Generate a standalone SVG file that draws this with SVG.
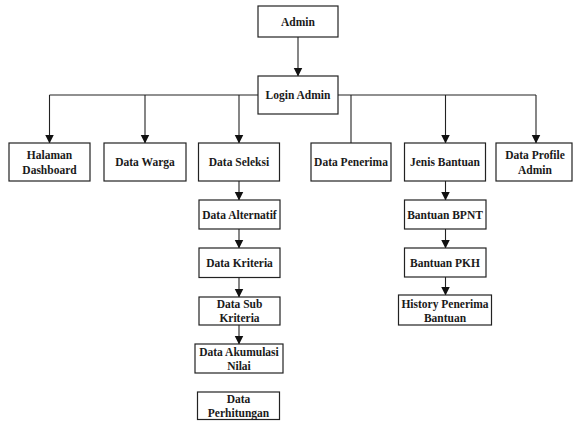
<svg xmlns="http://www.w3.org/2000/svg" width="573" height="421" viewBox="0 0 573 421">
<style>
.b{fill:#fff;stroke:#222;stroke-width:1.2}
.t{font-family:'Liberation Serif',Tinos,'DejaVu Serif',serif;font-weight:700;font-size:11.5px;fill:#1a1a1a;text-anchor:middle}
.c{fill:none;stroke:#222;stroke-width:1.1}
.a{marker-end:url(#ah)}
</style>
<defs>
<marker id="ah" markerUnits="userSpaceOnUse" markerWidth="9" markerHeight="10" refX="8.5" refY="4.5" orient="auto">
<path d="M0,0 L9,4.5 L0,9 Z" fill="#111"/>
</marker>
</defs>
<rect width="573" height="421" fill="#fff"/>
<g id="connectors">
<path class="c" d="M49.5,95 H536"/>
<path class="c a" d="M298,37 V76"/>
<path class="c a" d="M49.5,95 V143"/>
<path class="c a" d="M145,95 V143"/>
<path class="c a" d="M239,95 V143"/>
<path class="c" d="M351,95 V143"/>
<path class="c a" d="M445.5,95 V143"/>
<path class="c a" d="M536,95 V143"/>
<path class="c a" d="M239,181 V200"/>
<path class="c a" d="M239,229 V248"/>
<path class="c a" d="M239,277.5 V297"/>
<path class="c a" d="M239,325 V344"/>
<path class="c a" d="M445.5,181 V200"/>
<path class="c a" d="M445.5,229 V248"/>
<path class="c a" d="M445.5,277 V295"/>
</g>
<g id="admin"><rect class="b" x="258" y="6" width="80" height="31"/><text class="t" x="298" y="26">Admin</text></g>
<g id="login-admin"><rect class="b" x="258" y="76" width="80" height="38"/><text class="t" x="298" y="99">Login Admin</text></g>
<g id="halaman-dashboard"><rect class="b" x="9" y="143" width="81" height="38"/><text class="t" x="49.5" y="158.5">Halaman</text><text class="t" x="49.5" y="173.5">Dashboard</text></g>
<g id="data-warga"><rect class="b" x="104" y="143" width="82" height="38"/><text class="t" x="145" y="166">Data Warga</text></g>
<g id="data-seleksi"><rect class="b" x="198.5" y="143" width="81" height="38"/><text class="t" x="239" y="166">Data Seleksi</text></g>
<g id="data-penerima"><rect class="b" x="311" y="143" width="80" height="38"/><text class="t" x="351" y="166">Data Penerima</text></g>
<g id="jenis-bantuan"><rect class="b" x="404.5" y="143" width="81" height="38"/><text class="t" x="445" y="166">Jenis Bantuan</text></g>
<g id="data-profile-admin"><rect class="b" x="496" y="143" width="76" height="38"/><text class="t" x="535" y="158.5">Data Profile</text><text class="t" x="535" y="173.5">Admin</text></g>
<g id="data-alternatif"><rect class="b" x="199" y="200" width="81" height="29"/><text class="t" x="239.5" y="218.5">Data Alternatif</text></g>
<g id="data-kriteria"><rect class="b" x="199" y="248" width="81" height="29.5"/><text class="t" x="239.5" y="266.5">Data Kriteria</text></g>
<g id="data-sub-kriteria"><rect class="b" x="199" y="297" width="81" height="28"/><text class="t" x="239.5" y="307.5">Data Sub</text><text class="t" x="239.5" y="322">Kriteria</text></g>
<g id="data-akumulasi-nilai"><rect class="b" x="195" y="344" width="88" height="29"/><text class="t" x="239" y="355.5">Data Akumulasi</text><text class="t" x="239" y="370">Nilai</text></g>
<g id="data-perhitungan"><rect class="b" x="197.5" y="392" width="82" height="27.5"/><text class="t" x="238.5" y="403">Data</text><text class="t" x="238.5" y="417">Perhitungan</text></g>
<g id="bantuan-bpnt"><rect class="b" x="404.5" y="200" width="81.5" height="29"/><text class="t" x="445" y="218.5">Bantuan BPNT</text></g>
<g id="bantuan-pkh"><rect class="b" x="404.5" y="248" width="81.5" height="29"/><text class="t" x="445" y="266.5">Bantuan PKH</text></g>
<g id="history-penerima-bantuan"><rect class="b" x="398.5" y="295" width="93" height="30"/><text class="t" x="445" y="308">History Penerima</text><text class="t" x="445" y="321.5">Bantuan</text></g>
</svg>
